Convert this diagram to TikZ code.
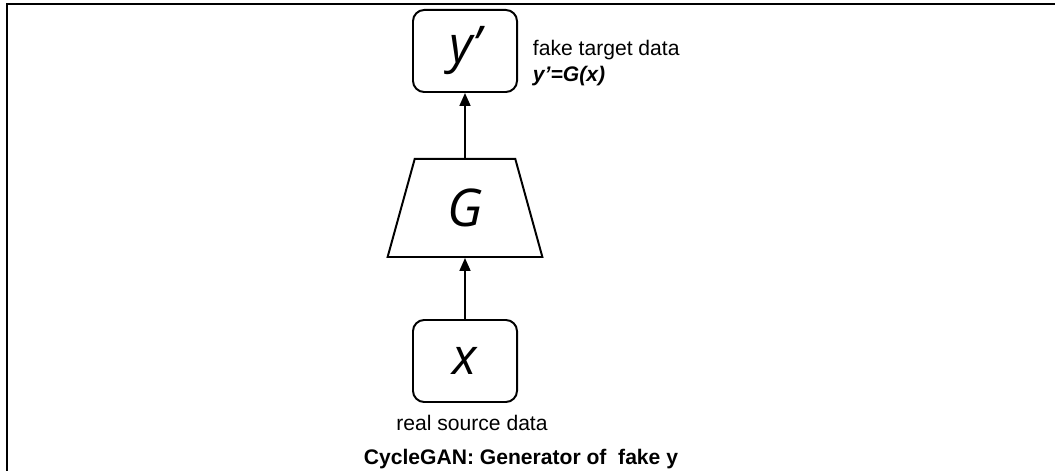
\documentclass[tikz,border=0pt]{standalone}
\usepackage{fontspec}
\setmainfont{Liberation Sans}
\newfontfamily\symfont{Open Sans}
\usetikzlibrary{positioning,shapes.geometric,arrows.meta}

\begin{document}
\begin{tikzpicture}[x=0.025cm, y=-0.025cm,
  databox/.style={rectangle, rounded corners=0.28cm, draw, line width=1.4pt,
    minimum width=2.6cm, minimum height=2.05cm,
    font=\symfont\itshape\fontsize{36}{40}\selectfont},
  genbox/.style={trapezium, draw, line width=1.4pt, trapezium stretches=true,
    trapezium left angle=76, trapezium right angle=76,
    minimum width=3.875cm, minimum height=2.45cm, inner sep=0pt,
    font=\symfont\itshape\fontsize{37}{40}\selectfont},
  flow/.style={-{Triangle[length=3.2mm,width=2.7mm]}, line width=1.3pt},
  note/.style={font=\fontsize{15}{18.5}\selectfont, align=left},
  caption/.style={font=\fontsize{15}{18}\selectfont},
]
\useasboundingbox (0,0) rectangle (1055,471);

% Frame
\draw[line width=1.5pt] (7,471) -- (7,4) -- (1055,4);

% Generator chain
\node[databox] (x) at (465,361) {x};
\node[genbox] (G) at (465,208) {G};
\node[databox] (yfake) at (465,51) {y’};

\draw[flow] (x) -- (G);
\draw[flow] (G) -- (yfake);

% Labels
\node[note, anchor=west] (fakelbl) at (528,63) {fake target data\\\textbf{\textit{y’=G(x)}}};
\node[caption] (reallbl) at (472,423) {real source data};
\node[caption, font=\fontsize{15}{18}\selectfont\bfseries] (title) at (521,459) {CycleGAN: Generator of\ \ fake y};

\end{tikzpicture}
\end{document}
